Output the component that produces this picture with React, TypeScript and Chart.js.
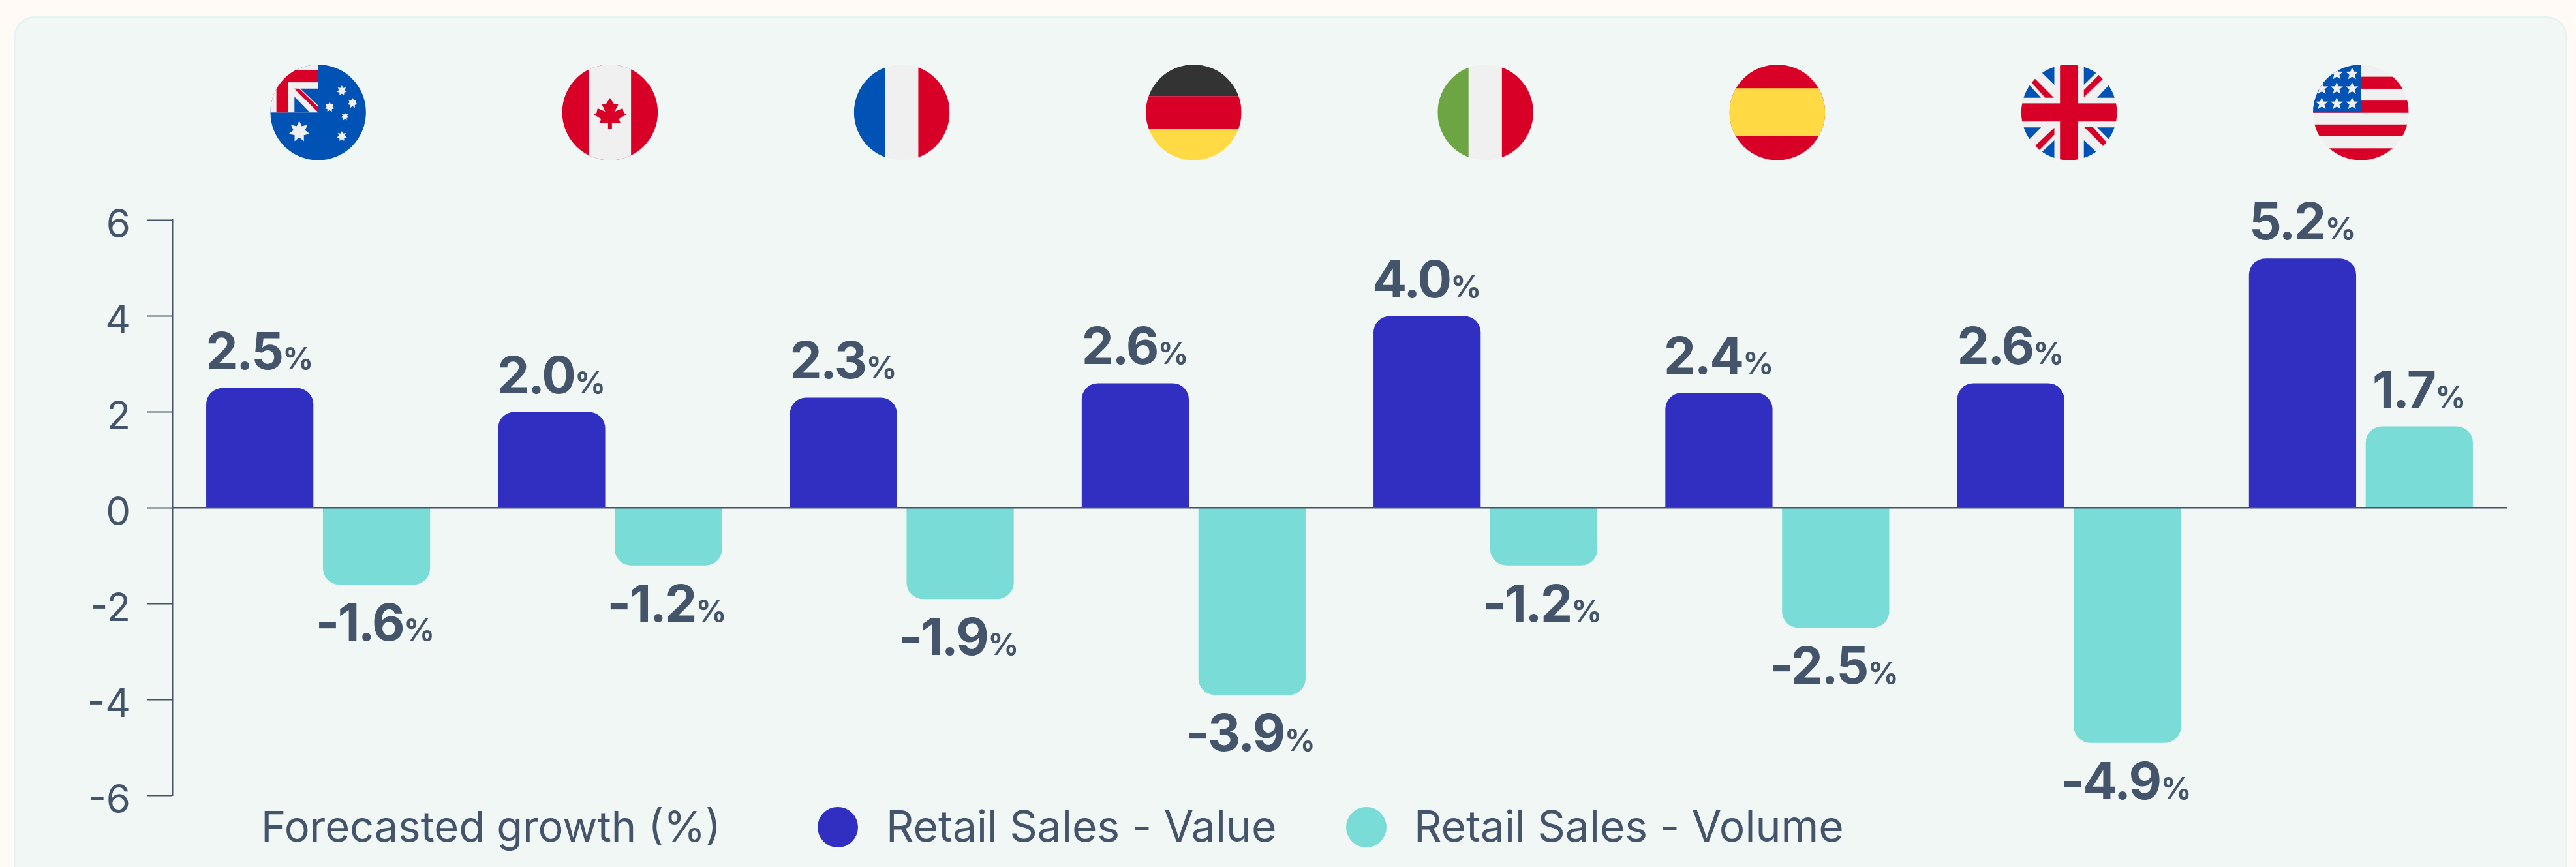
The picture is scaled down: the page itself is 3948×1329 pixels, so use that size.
import React, { useEffect, useRef } from "react";
import { Chart, registerables } from "chart.js";

Chart.register(...registerables);

const countries = ["Australia", "Canada", "France", "Germany", "Italy", "Spain", "United Kingdom", "United States"];
const valueSeries = [2.5, 2.0, 2.3, 2.6, 4.0, 2.4, 2.6, 5.2];
const volumeSeries = [-1.6, -1.2, -1.9, -3.9, -1.2, -2.5, -4.9, 1.7];
const yTicks = [6, 4, 2, 0, -2, -4, -6];
const legendTitle = "Forecasted growth (%)";
const valueLabel = "Retail Sales - Value";
const volumeLabel = "Retail Sales - Volume";

const INK = "#44546a";
const BLUE = "#302fc1";
const TEAL = "#79dcd6";
const FAMILY = "Inter, 'Noto Sans', sans-serif";

const RED = "#d80027";
const WHITE = "#f0f0f0";
const FBLUE = "#0052b4";
const YELLOW = "#ffda44";

type Ctx = CanvasRenderingContext2D;
const poly = (c: Ctx, pts: number[][], fill: string) => {
  c.fillStyle = fill;
  c.beginPath();
  pts.forEach((p, i) => (i ? c.lineTo(p[0], p[1]) : c.moveTo(p[0], p[1])));
  c.closePath();
  c.fill();
};
const rect = (c: Ctx, x0: number, y0: number, x1: number, y1: number, fill: string) => {
  c.fillStyle = fill;
  c.fillRect(x0, y0, x1 - x0, y1 - y0);
};
const star = (c: Ctx, x: number, y: number, R: number, n: number, ratio: number, fill: string) => {
  const pts: number[][] = [];
  for (let i = 0; i < n * 2; i++) {
    const r = i % 2 ? R * ratio : R;
    const a = -Math.PI / 2 + (i * Math.PI) / n;
    pts.push([x + r * Math.cos(a), y + r * Math.sin(a)]);
  }
  poly(c, pts, fill);
};

const flags: Record<string, (c: Ctx) => void> = {
  Australia: (c) => {
    rect(c, -1, -1, 1, 1, FBLUE);
    rect(c, -1, -1, 0, 0, WHITE);
    rect(c, -0.873, -0.88, 0, -0.63, RED);
    rect(c, -0.873, -0.88, -0.632, 0, RED);
    poly(c, [[-0.495, -0.327], [-0.495, 0], [-0.177, 0]], FBLUE);
    poly(c, [[-0.373, -0.5], [0, -0.5], [0, -0.145]], FBLUE);
    poly(c, [[-0.5, -0.5], [-0.4, -0.5], [0, -0.114], [0, 0]], RED);
    star(c, -0.395, 0.4, 0.225, 7, 0.55, WHITE);
    star(c, 0.495, -0.455, 0.108, 7, 0.58, WHITE);
    star(c, 0.718, -0.195, 0.108, 7, 0.58, WHITE);
    star(c, 0.24, -0.11, 0.108, 7, 0.58, WHITE);
    star(c, 0.56, 0.086, 0.088, 7, 0.55, WHITE);
    star(c, 0.495, 0.5, 0.108, 7, 0.58, WHITE);
  },
  Canada: (c) => {
    rect(c, -1, -1, 1, 1, RED);
    rect(c, -0.445, -1, 0.44, 1, WHITE);
    const px = [[254, 180], [272, 208], [293, 208], [276, 243], [312, 228], [318, 250], [330, 256], [295, 277], [302, 295], [263, 295], [263, 323], [245, 323], [245, 295], [207, 295], [213, 277], [179, 256], [192, 250], [197, 228], [232, 243], [216, 208], [236, 208]];
    poly(c, px.map((p) => [(p[0] - 254) / 220, (p[1] - 247) / 220]), RED);
  },
  France: (c) => {
    rect(c, -1, -1, 1, 1, WHITE);
    rect(c, -1, -1, -0.345, 1, FBLUE);
    rect(c, 0.345, -1, 1, 1, RED);
  },
  Germany: (c) => {
    rect(c, -1, -1, 1, -0.342, "#333333");
    rect(c, -1, -0.342, 1, 0.346, RED);
    rect(c, -1, 0.346, 1, 1, YELLOW);
  },
  Italy: (c) => {
    rect(c, -1, -1, 1, 1, WHITE);
    rect(c, -1, -1, -0.354, 1, "#6da544");
    rect(c, 0.344, -1, 1, 1, RED);
  },
  Spain: (c) => {
    rect(c, -1, -1, 1, 1, RED);
    rect(c, -1, -0.506, 1, 0.5, YELLOW);
  },
  "United Kingdom": (c) => {
    rect(c, -1, -1, 1, 1, WHITE);
    const blue = [
      [[-0.564, -0.827], [-0.309, -1.0], [-0.309, -0.577]],
      [[-1.0, -0.309], [-0.586, -0.309], [-0.827, -0.568]],
      [[-1.0, 0.314], [-0.586, 0.314], [-0.827, 0.559]],
      [[-0.564, 0.823], [-0.309, 0.582], [-0.309, 1.0]],
    ];
    blue.forEach((t) => {
      poly(c, t, FBLUE);
      poly(c, t.map((p) => [-p[0], p[1]]), FBLUE);
    });
    const ul = [[-0.714, -0.705], [-0.318, -0.309], [-0.5, -0.309], [-0.79, -0.632]];
    const ll = [[-0.309, 0.32], [-0.309, 0.468], [-0.623, 0.786], [-0.705, 0.695]];
    poly(c, ul, RED);
    poly(c, ul.map((p) => [-p[0], -p[1]]), RED);
    poly(c, ll, RED);
    poly(c, ll.map((p) => [-p[0], -p[1]]), RED);
    rect(c, -0.19, -1, 0.19, 1, RED);
    rect(c, -1, -0.19, 1, 0.19, RED);
  },
  "United States": (c) => {
    rect(c, -1, -1, 1, 1, WHITE);
    [[-0.746, -0.496], [-0.248, 0.006], [0.252, 0.5], [0.75, 1]].forEach((s) => rect(c, -1, s[0], 1, s[1], RED));
    rect(c, -1, -1, 0, 0, FBLUE);
    const xs = [-0.818, -0.505, -0.186];
    const ys = [-0.805, -0.5, -0.182];
    ys.forEach((y, r) => xs.forEach((x, k) => {
      if (r === 0 && k === 0) return;
      star(c, x, y, 0.14, 5, 0.42, WHITE);
    }));
  },
};

const flagPlugin = {
  id: "flags",
  afterDraw(chart: any) {
    const { ctx } = chart;
    const xScale = chart.scales.x;
    countries.forEach((name, i) => {
      const cx = xScale.getPixelForValue(i);
      ctx.save();
      ctx.translate(cx, 172.3);
      ctx.scale(73.3, 73.3);
      ctx.beginPath();
      ctx.arc(0, 0, 1, 0, Math.PI * 2);
      ctx.clip();
      flags[name](ctx);
      ctx.restore();
    });
  },
};

const dataLabelPlugin = {
  id: "dataLabels",
  afterDatasetsDraw(chart: any) {
    const { ctx } = chart;
    chart.data.datasets.forEach((ds: any, d: number) => {
      chart.getDatasetMeta(d).data.forEach((bar: any, i: number) => {
        const v = ds.data[i];
        const main = v.toFixed(1);
        const big = `650 78px ${FAMILY}`;
        const small = `650 46px ${FAMILY}`;
        ctx.save();
        ctx.fillStyle = INK;
        ctx.textBaseline = "alphabetic";
        ctx.textAlign = "left";
        ctx.letterSpacing = "-2.5px";
        ctx.font = big;
        const w1 = ctx.measureText(main).width;
        ctx.font = small;
        const w2 = ctx.measureText("%").width;
        const left = bar.x - (w1 + w2) / 2 - (v >= 0 ? 2 : 4);
        const baseline = v >= 0 ? bar.y - 29 : bar.y + 86;
        ctx.font = big;
        ctx.fillText(main, left, baseline);
        ctx.font = small;
        ctx.fillText("%", left + w1 + 1, baseline);
        ctx.restore();
      });
    });
  },
};

const legendPlugin = {
  id: "sideLegend",
  afterDraw(chart: any) {
    const { ctx } = chart;
    ctx.save();
    ctx.textBaseline = "alphabetic";
    ctx.textAlign = "left";
    ctx.fillStyle = INK;
    ctx.font = `400 65px ${FAMILY}`;
    ctx.fillText(legendTitle, 400, 1290);
    ctx.font = `400 66px ${FAMILY}`;
    const spots = [[1284, 1358], [2094, 2167]];
    chart.data.datasets.forEach((ds: any, d: number) => {
      ctx.fillStyle = ds.backgroundColor;
      ctx.beginPath();
      ctx.arc(spots[d][0], 1268, 31, 0, Math.PI * 2);
      ctx.fill();
      ctx.fillStyle = INK;
      ctx.fillText(ds.label, spots[d][1], 1290);
    });
    ctx.restore();
  },
};

export default function App() {
  const ref = useRef<HTMLCanvasElement>(null);
  useEffect(() => {
    const chart = new Chart(ref.current as HTMLCanvasElement, {
      type: "bar",
      data: {
        labels: countries,
        datasets: [
          { label: valueLabel, data: valueSeries, backgroundColor: BLUE, borderWidth: 0, borderRadius: 25, categoryPercentage: 0.8, barPercentage: 0.918 },
          { label: volumeLabel, data: volumeSeries, backgroundColor: TEAL, borderWidth: 0, borderRadius: 25, categoryPercentage: 0.8, barPercentage: 0.918 },
        ],
      },
      options: {
        responsive: false,
        animation: false,
        layout: { padding: { left: 130, right: 106, top: 337.5, bottom: 109.5 } },
        plugins: { legend: { display: false }, tooltip: { enabled: false } },
        scales: {
          x: {
            type: "category",
            position: { y: 0 },
            ticks: { display: false },
            grid: { display: false },
            border: { display: true, color: INK, width: 2.5, z: 1 },
          },
          y: {
            type: "linear",
            min: -6,
            max: 6,
            afterBuildTicks: (s: any) => {
              s.ticks = yTicks.map((value) => ({ value }));
            },
            afterFit: (s: any) => {
              s.width = 134;
            },
            ticks: {
              color: INK,
              padding: 25,
              labelOffset: 8,
              font: { family: FAMILY, size: 60, weight: 400 },
            },
            grid: { drawOnChartArea: false, drawTicks: true, tickLength: 39, tickWidth: 2, tickColor: INK },
            border: { display: true, color: INK, width: 2.5 },
          },
        },
      } as any,
      plugins: [dataLabelPlugin, flagPlugin, legendPlugin],
    });
    return () => chart.destroy();
  }, []);
  return (
    <div style={{ position: "fixed", left: 0, top: 0, width: 3948, height: 1329, background: "#fffaf6", overflow: "hidden" }}>
      <div style={{ position: "absolute", left: 22, top: 25, width: 3912, height: 1400, boxSizing: "border-box", background: "#f1f7f5", border: "3px solid #e6f4f1", borderRadius: 30 }} />
      <canvas ref={ref} width={3948} height={1329} style={{ position: "absolute", left: 0, top: 0, display: "block" }} />
    </div>
  );
}
